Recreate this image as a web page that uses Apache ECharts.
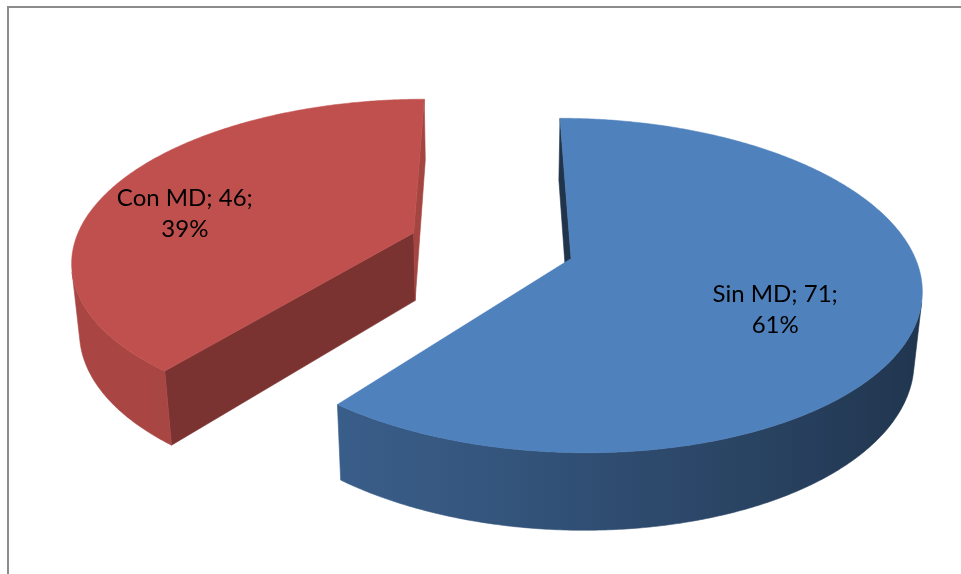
<!DOCTYPE html>
<html>
<head>
<meta charset="utf-8">
<script src="https://cdn.jsdelivr.net/npm/echarts@6/dist/echarts.min.js"></script>
<style>
  html, body { margin: 0; padding: 0; background: #ffffff; }
  #chart { width: 961px; height: 574px; }
</style>
</head>
<body>
<div id="chart"></div>
<script>
// ---- data ----
const categories = ['Sin MD', 'Con MD'];
const values = [71, 46];

// ---- look ----
const sliceColors = ['#4F81BD', '#C0504D'];
const labelDist = [0.60, 0.76];          // label anchor, in radii from the slice centre
const faceShade = [                      // brightness of the flat cut faces
  { start: 0.40, end: 0.40 },
  { start: 0.64, end: 0.86 }
];
const sideShade = [                      // brightness of the curved rim, by angle
  t => 0.40 + 0.34 * Math.pow((1 + Math.cos((t - 235) * Math.PI / 180)) / 2, 2),
  t => 0.80 + 0.08 * Math.pow((1 + Math.cos((t - 235) * Math.PI / 180)) / 2, 2)
];

// ---- 3D pie geometry (units of the pie radius) ----
const DEG = Math.PI / 180;
const TILT = 27.4 * DEG;   // camera elevation
const PERSP = 0.179;       // radius / camera distance
const THICK = 0.227;       // slab thickness
const EXPLODE = 0.245;     // slice offset from the centre

function shade(hex, f) {
  const n = parseInt(hex.slice(1), 16);
  const r = Math.round(((n >> 16) & 255) * f);
  const g = Math.round(((n >> 8) & 255) * f);
  const b = Math.round((n & 255) * f);
  return 'rgb(' + r + ',' + g + ',' + b + ')';
}

function renderSlice(params, api) {
  const W = api.getWidth(), H = api.getHeight();
  const ox = W * 0.5113, oy = H * 0.4279, fx = W * 0.3538, fy = H * 0.601;
  const sinT = Math.sin(TILT), cosT = Math.cos(TILT);
  const project = (X, Y, Z) => {
    const cy = Y * cosT + Z * sinT;
    const cz = -Y * sinT + Z * cosT;
    const d = 1 + PERSP * cz;
    return [ox + fx * X / d, oy - fy * cy / d];
  };
  const cam = [0, sinT / PERSP, -cosT / PERSP];

  const i = params.dataIndex;
  const v = api.value(0);
  const total = values.reduce((a, b) => a + b, 0);
  let before = 0;
  for (let k = 0; k < i; k++) before += values[k];
  const a0 = before / total * 360;
  const a1 = (before + v) / total * 360;
  const mid = (a0 + a1) / 2;
  const ex = EXPLODE * Math.sin(mid * DEG), ez = EXPLODE * Math.cos(mid * DEG);
  const rim = (t, Y) => project(ex + Math.sin(t * DEG), Y, ez + Math.cos(t * DEG));
  const base = sliceColors[i];
  const children = [];

  const cTop = project(ex, 0, ez), cBot = project(ex, -THICK, ez);

  // flat cut faces (only those turned towards the camera)
  const toCam = [cam[0] - ex, cam[2] - ez];
  const nStart = [-Math.cos(a0 * DEG), Math.sin(a0 * DEG)];
  const nEnd = [Math.cos(a1 * DEG), -Math.sin(a1 * DEG)];
  const faces = [
    { a: a0, n: nStart, f: faceShade[i].start },
    { a: a1, n: nEnd, f: faceShade[i].end }
  ];
  faces.forEach(fc => {
    if (fc.n[0] * toCam[0] + fc.n[1] * toCam[1] > -1e-9) {
      const col = shade(base, fc.f);
      children.push({
        type: 'polygon',
        shape: { points: [cTop, rim(fc.a, 0), rim(fc.a, -THICK), cBot] },
        style: { fill: col, stroke: col, lineWidth: 0.6 }
      });
    }
  });

  // curved rim, split into runs that face the camera
  const N = Math.ceil((a1 - a0) / 0.5);
  const runs = [];
  let cur = null;
  for (let s = 0; s <= N; s++) {
    const t = a0 + (a1 - a0) * s / N;
    const st = Math.sin(t * DEG), ct = Math.cos(t * DEG);
    const vis = st * (cam[0] - ex - st) + ct * (cam[2] - ez - ct) > 0;
    if (vis) {
      if (!cur) { cur = []; runs.push(cur); }
      cur.push(t);
    } else cur = null;
  }
  runs.forEach(run => {
    if (run.length < 2) return;
    const topPts = run.map(t => rim(t, 0));
    const botPts = run.map(t => rim(t, -THICK));
    const pts = topPts.concat(botPts.slice().reverse());
    const xs = pts.map(p => p[0]);
    const minX = Math.min.apply(null, xs), maxX = Math.max.apply(null, xs);
    const stops = [];
    for (let k = 0; k < run.length; k += 4) {
      stops.push({ offset: (topPts[k][0] - minX) / (maxX - minX), color: shade(base, sideShade[i](run[k])) });
    }
    stops.push({ offset: (topPts[run.length - 1][0] - minX) / (maxX - minX), color: shade(base, sideShade[i](run[run.length - 1])) });
    stops.sort((p, q) => p.offset - q.offset);
    stops.forEach(st => { st.offset = Math.min(1, Math.max(0, st.offset)); });
    const grad = new echarts.graphic.LinearGradient(minX, 0, maxX, 0, stops, true);
    children.push({
      type: 'polygon',
      shape: { points: pts },
      style: { fill: grad, stroke: grad, lineWidth: 0.6 }
    });
  });

  // top face
  const topPts = [cTop];
  for (let s = 0; s <= N; s++) topPts.push(rim(a0 + (a1 - a0) * s / N, 0));
  children.push({
    type: 'polygon',
    shape: { points: topPts },
    style: { fill: base, stroke: base, lineWidth: 0.5 }
  });

  // data label: "name; value;\npct%"
  const lp = project(ex + labelDist[i] * Math.sin(mid * DEG), 0, ez + labelDist[i] * Math.cos(mid * DEG));
  const pct = Math.round(v / total * 100);
  children.push({
    type: 'text',
    style: {
      x: lp[0], y: lp[1] + 18,
      text: categories[i] + '; ' + v + ';\n' + pct + '%',
      fill: '#000000',
      font: '24px Lato, "Open Sans", sans-serif',
      align: 'center', verticalAlign: 'middle',
      textAlign: 'center', textVerticalAlign: 'middle',
      lineHeight: 31
    }
  });

  return { type: 'group', children: children };
}

const chart = echarts.init(document.getElementById('chart'), null, { renderer: 'canvas' });
chart.setOption({
  animation: false,
  backgroundColor: '#ffffff',
  graphic: [{
    type: 'rect', silent: true, z: -10,
    shape: { x: 8, y: 7, width: 1200, height: 800 },
    style: { fill: 'none', stroke: '#8c8c8c', lineWidth: 2 }
  }],
  series: [{
    type: 'custom',
    coordinateSystem: 'none',
    renderItem: renderSlice,
    data: values.map(v => [v])
  }]
});
</script>
</body>
</html>
